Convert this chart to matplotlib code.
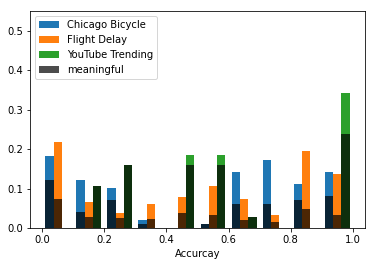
import matplotlib
matplotlib.use("Agg")
import matplotlib.pyplot as plt
import numpy as np

bin_edges = [0.0, 0.1, 0.2, 0.3, 0.4, 0.5, 0.6, 0.7, 0.8, 0.9, 1.0]
series_names = ["Chicago Bicycle", "Flight Delay", "YouTube Trending"]
series_colors = ["#1f77b4", "#ff7f0e", "#2ca02c"]

chicago_total = [0.182, 0.121, 0.101, 0.020, 0.0, 0.010, 0.141, 0.172, 0.111, 0.141]
flight_total = [0.217, 0.066, 0.038, 0.061, 0.078, 0.106, 0.073, 0.033, 0.194, 0.136]
youtube_total = [0.0, 0.106, 0.159, 0.0, 0.184, 0.184, 0.028, 0.0, 0.0, 0.341]

chicago_meaningful = [0.121, 0.040, 0.071, 0.010, 0.0, 0.010, 0.061, 0.061, 0.071, 0.081]
flight_meaningful = [0.073, 0.028, 0.025, 0.023, 0.038, 0.033, 0.020, 0.015, 0.048, 0.033]
youtube_meaningful = [0.0, 0.106, 0.159, 0.0, 0.159, 0.159, 0.028, 0.0, 0.0, 0.237]

edges = np.array(bin_edges)
centers = (edges[:-1] + edges[1:]) / 2

fig = plt.figure(figsize=(375 / 72, 266 / 72), dpi=72)
ax = fig.add_axes([0.08, 0.1429, 0.8933, 0.8157])

ax.hist([centers, centers, centers], bins=edges,
        weights=[chicago_total, flight_total, youtube_total],
        color=series_colors, label=series_names)
ax.hist([centers, centers, centers], bins=edges,
        weights=[chicago_meaningful, flight_meaningful, youtube_meaningful],
        color=["black", "black", "black"], alpha=0.7,
        label=["meaningful", "_nolegend_", "_nolegend_"])

ax.set_ylim(0, 0.55)
ax.set_xlabel("Accurcay")
ax.legend(loc="upper left")

fig.savefig("out.png", dpi=72)
